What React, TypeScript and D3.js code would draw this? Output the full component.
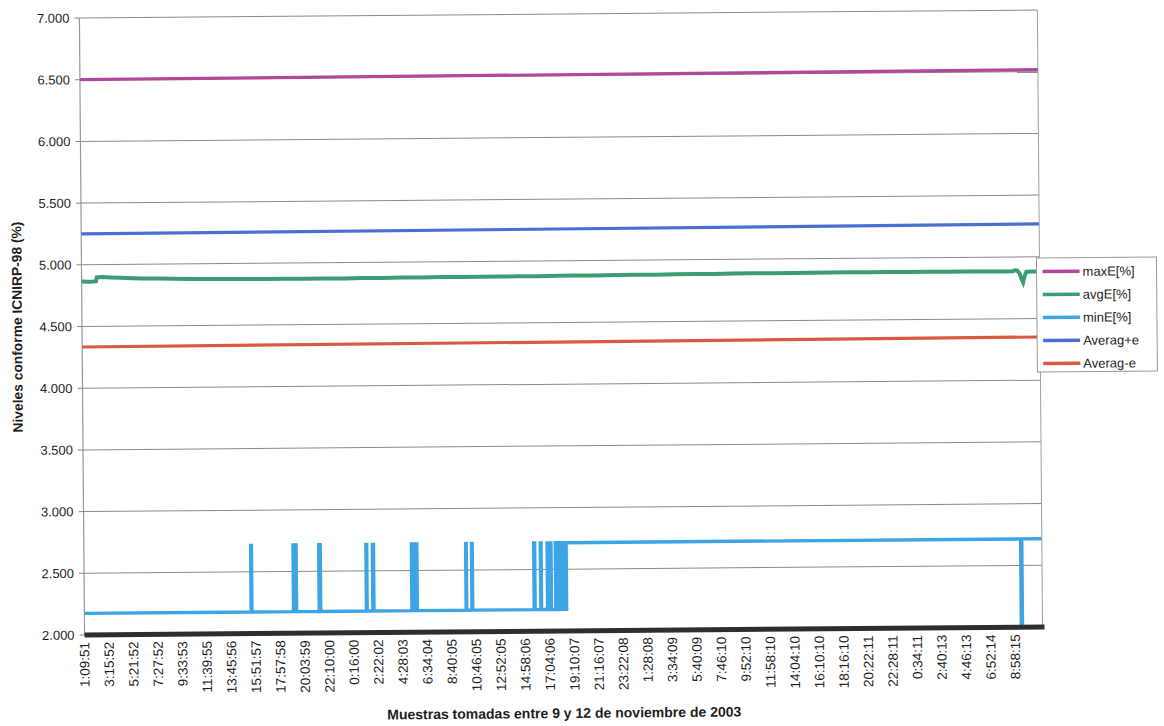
import React from 'react';
import * as d3 from 'd3';

const W = 1164;
const H = 726;

// total number of samples on the category axis and label interval
const SAMPLE_COUNT = 4928;
const LABEL_STEP = 126;

const tickLabels = [
  '1:09:51', '3:15:52', '5:21:52', '7:27:52', '9:33:53', '11:39:55', '13:45:56', '15:51:57',
  '17:57:58', '20:03:59', '22:10:00', '0:16:00', '2:22:02', '4:28:03', '6:34:04', '8:40:05',
  '10:46:05', '12:52:05', '14:58:06', '17:04:06', '19:10:07', '21:16:07', '23:22:08', '1:28:08',
  '3:34:09', '5:40:09', '7:46:10', '9:52:10', '11:58:10', '14:04:10', '16:10:10', '18:16:10',
  '20:22:11', '22:28:11', '0:34:11', '2:40:13', '4:46:13', '6:52:14', '8:58:15',
];

const yTicks = [2, 2.5, 3, 3.5, 4, 4.5, 5, 5.5, 6, 6.5, 7];

const seriesNames = ['maxE[%]', 'avgE[%]', 'minE[%]', 'Averag+e', 'Averag-e'];
const seriesColors = ['#B2479B', '#3C9C72', '#3DA5E6', '#4A70D6', '#D95A40'];

// [sample index, value]
const maxE: [number, number][] = [[0, 6.5], [4928, 6.516]];
const averagPlus: [number, number][] = [[0, 5.25], [4928, 5.266]];
const averagMinus: [number, number][] = [[0, 4.334], [4928, 4.35]];

const avgE: [number, number][] = [
  [0, 4.865], [30, 4.862], [60, 4.864], [74, 4.866], [78, 4.897], [110, 4.899], [150, 4.896],
  [200, 4.892], [260, 4.888], [320, 4.885], [400, 4.883], [480, 4.880], [560, 4.878],
  [650, 4.876], [750, 4.875], [850, 4.873], [950, 4.872], [1050, 4.874], [1150, 4.871],
  [1250, 4.873], [1350, 4.872], [1450, 4.874], [1550, 4.873], [1650, 4.875], [1750, 4.874],
  [1850, 4.876], [1950, 4.875], [2050, 4.877], [2150, 4.876], [2250, 4.878], [2350, 4.877],
  [2450, 4.879], [2550, 4.880], [2650, 4.879], [2750, 4.881], [2850, 4.882], [2950, 4.881],
  [3050, 4.883], [3150, 4.884], [3250, 4.883], [3350, 4.885], [3450, 4.886], [3550, 4.885],
  [3650, 4.886], [3750, 4.887], [3850, 4.886], [3950, 4.887], [4050, 4.886], [4150, 4.887],
  [4250, 4.886], [4350, 4.887], [4450, 4.885], [4550, 4.886], [4650, 4.885], [4750, 4.883],
  [4790, 4.884], [4800, 4.893], [4812, 4.891], [4825, 4.868], [4835, 4.822], [4843, 4.795],
  [4850, 4.840], [4860, 4.880], [4890, 4.882], [4928, 4.880],
];

const HI = 2.715;
const LO = 2.175;
// step changes of minE: [sample index, value from this sample on]
const minE: [number, number][] = [
  [0, LO],
  [858, HI], [862, LO],
  [1076, HI], [1092, LO],
  [1208, HI], [1216, LO],
  [1451, HI], [1455, LO],
  [1484, HI], [1490, LO],
  [1685, HI], [1690, LO], [1693, HI], [1698, LO], [1701, HI], [1706, LO], [1709, HI], [1713, LO],
  [1964, HI], [1967, LO],
  [1994, HI], [1998, LO],
  [2314, HI], [2319, LO],
  [2348, HI], [2352, LO],
  [2383, HI], [2387, LO], [2389, HI], [2393, LO], [2395, HI], [2399, LO], [2401, HI], [2403, LO],
  [2425, HI], [2429, LO], [2431, HI], [2435, LO], [2437, HI], [2441, LO], [2443, HI], [2447, LO],
  [2449, HI], [2453, LO], [2455, HI], [2459, LO], [2461, HI], [2465, LO], [2467, HI], [2471, LO],
  [2473, HI], [2477, LO], [2481, HI],
  [4819, 2.0], [4825, HI],
  [4928, HI],
];

const FONT = '"Liberation Sans", Arial, Helvetica, sans-serif';

export default function App() {
  const left = 82;
  const right = 1040;
  const top = 14;
  const bottom = 631;

  const x = d3.scaleLinear().domain([0, SAMPLE_COUNT]).range([left, right]);
  const y = d3.scaleLinear().domain([2, 7]).range([bottom, top]);
  const fmt = d3.format('.3f');

  const line = d3.line<[number, number]>().x((d) => x(d[0])).y((d) => y(d[1]));
  const stepLine = d3
    .line<[number, number]>()
    .x((d) => x(d[0]))
    .y((d) => y(d[1]))
    .curve(d3.curveStepAfter);

  const series: { d: string; color: string; w: number }[] = [
    { d: line(maxE) || '', color: seriesColors[0], w: 3.2 },
    { d: line(avgE) || '', color: seriesColors[1], w: 4 },
    { d: stepLine(minE) || '', color: seriesColors[2], w: 3.4 },
    { d: line(averagPlus) || '', color: seriesColors[3], w: 3.2 },
    { d: line(averagMinus) || '', color: seriesColors[4], w: 3.2 },
  ];

  const legX = 1037;
  const legY = 262;
  const legW = 120;
  const legH = 114;

  return (
    <svg
      width={W}
      height={H}
      viewBox={`0 0 ${W} ${H}`}
      style={{ position: 'absolute', left: 0, top: 0, background: '#fff' }}
      fontFamily={FONT}
    >
      <defs>
        <clipPath id="plotClip">
          <rect x={left} y={top - 4} width={right - left} height={bottom - top + 4} />
        </clipPath>
      </defs>
      <rect x={0} y={0} width={W} height={H} fill="#fff" />
      <g transform="rotate(-0.48, 560, 326)">
        {/* gridlines */}
        {yTicks.map((t) => (
          <line key={t} x1={left} x2={right} y1={y(t)} y2={y(t)} stroke="#8a8a8a" strokeWidth={1} />
        ))}
        {/* plot borders */}
        <line x1={left} x2={left} y1={top} y2={bottom} stroke="#8f9aa8" strokeWidth={1.2} />
        <line x1={right} x2={right} y1={top} y2={bottom} stroke="#a0a0a0" strokeWidth={1} />
        {/* y tick marks and labels */}
        {yTicks.map((t) => (
          <g key={'yt' + t}>
            <line x1={left - 5} x2={left} y1={y(t)} y2={y(t)} stroke="#888" strokeWidth={1} />
            <text x={left - 10} y={y(t)} dy="0.35em" textAnchor="end" fontSize={13} fill="#1e1e1e">
              {fmt(t)}
            </text>
          </g>
        ))}
        {/* series */}
        <g clipPath="url(#plotClip)">
          {series.map((s, i) => (
            <path key={i} d={s.d} fill="none" stroke={s.color} strokeWidth={s.w} strokeLinejoin="miter" />
          ))}
        </g>
        {/* dense category tick band (x axis) */}
        <rect x={left} y={bottom - 2.5} width={right - left + 2} height={5} fill="#2e2e2e" />
        {/* x tick labels */}
        {tickLabels.map((lab, i) => {
          const xi = x(i * LABEL_STEP);
          return (
            <text
              key={lab + i}
              transform={`translate(${xi + 4.5},${bottom + 7}) rotate(-90)`}
              textAnchor="end"
              fontSize={13.5}
              fill="#1e1e1e"
            >
              {lab}
            </text>
          );
        })}
        {/* axis titles */}
        <text x={561} y={718} textAnchor="middle" fontSize={14} fontWeight="bold" fill="#1e1e1e">
          Muestras tomadas entre 9 y 12 de noviembre de 2003
        </text>
        <text
          transform={`translate(22,${(top + bottom) / 2}) rotate(-90)`}
          textAnchor="middle"
          fontSize={13.8}
          fontWeight="bold"
          fill="#1e1e1e"
        >
          Niveles conforme ICNIRP-98 (%)
        </text>
        {/* legend */}
        <rect x={legX} y={legY} width={legW} height={legH} fill="#fff" stroke="#999" strokeWidth={1} />
        {seriesNames.map((name, i) => {
          const ly = legY + 13.5 + i * 23;
          return (
            <g key={name}>
              <line x1={legX + 6} x2={legX + 43} y1={ly} y2={ly} stroke={seriesColors[i]} strokeWidth={3.5} />
              <text x={legX + 46} y={ly} dy="0.36em" fontSize={13} fill="#1e1e1e">
                {name}
              </text>
            </g>
          );
        })}
      </g>
    </svg>
  );
}
